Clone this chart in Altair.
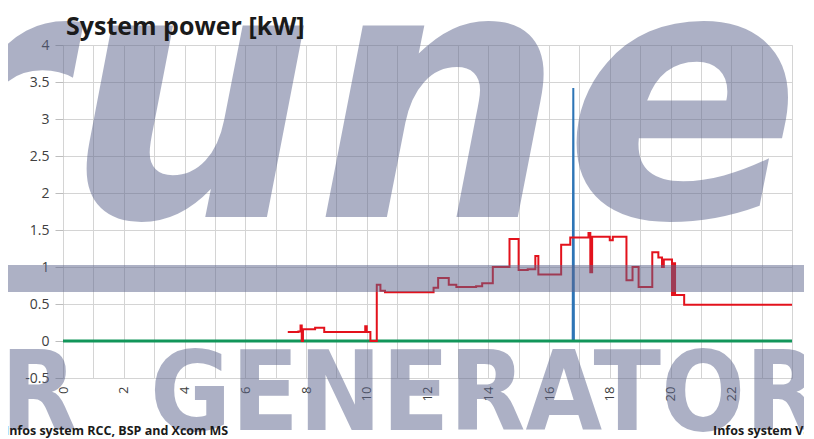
import altair as alt
import pandas as pd

# ---- data ----
red_t = [7.4, 7.75, 7.82, 7.86, 7.9, 8.3, 8.6, 9.95, 10.0, 10.12, 10.33, 10.45, 10.6,
         12.2, 12.35, 12.7, 12.95, 13.6, 13.8, 14.15, 14.7, 15.0, 15.3, 15.55, 15.65,
         16.4, 16.7, 17.3, 17.36, 17.42, 18.0, 18.1, 18.55, 18.75, 18.95, 19.4, 19.6,
         19.72, 19.78, 20.05, 20.1, 20.15, 20.45, 24.0]
red_v = [0.12, 0.13, 0.21, 0.0, 0.16, 0.18, 0.12, 0.2, 0.12, 0.0, 0.76, 0.68, 0.66,
         0.72, 0.85, 0.76, 0.73, 0.74, 0.78, 1.0, 1.38, 0.96, 0.97, 1.15, 0.9,
         1.3, 1.4, 1.46, 0.93, 1.41, 1.36, 1.41, 0.82, 1.0, 0.73, 1.2, 1.13,
         1.0, 1.1, 0.62, 1.05, 0.62, 0.49, 0.49]

blue_t = [0.0, 16.78, 16.8, 16.82, 24.0]
blue_v = [0.0, 0.0, 3.42, 0.0, 0.0]

green_t = [0.0, 24.0]
green_v = [0.0, 0.0]

x_ticks = list(range(0, 25))
y_ticks = [-0.5, 0, 0.5, 1, 1.5, 2, 2.5, 3, 3.5, 4]

title_text = "System power [kW]"
foot_left = "Infos system RCC, BSP and Xcom MS"
foot_right = "Infos system Variables"

red_df = pd.DataFrame({"t": red_t, "v": red_v})
blue_df = pd.DataFrame({"t": blue_t, "v": blue_v})
green_df = pd.DataFrame({"t": green_t, "v": green_v})

xs = alt.Scale(domain=[0, 24], nice=False, zero=False)
ys = alt.Scale(domain=[-0.5, 4], nice=False, zero=False)

x_axis = alt.Axis(values=x_ticks, title=None, grid=True, gridColor="#d4d4d4",
                  labelAngle=270, labelExpr="datum.value % 2 == 0 && datum.value < 24 ? datum.value : ''",
                  labelFont="Open Sans", labelFontSize=13, labelColor="#404040",
                  labelPadding=8, ticks=False, domain=False, labelOverlap=False, labelBound=False)
y_axis = alt.Axis(values=y_ticks, title=None, grid=True, gridColor="#d4d4d4",
                  labelExpr="'' + datum.value", labelFont="Open Sans", labelFontSize=14,
                  labelColor="#404040", tickSize=8, tickColor="#bdbdbd",
                  labelPadding=6, domain=False, labelOverlap=False, labelBound=False,
                  labelFlush=False)

X = alt.X("t:Q", scale=xs, axis=x_axis)
Y = alt.Y("v:Q", scale=ys, axis=y_axis)

blue = alt.Chart(blue_df).mark_line(color="#2e75b6", strokeWidth=2).encode(x=X, y=Y)
green = alt.Chart(green_df).mark_line(color="#12965a", strokeWidth=3).encode(x=X, y=Y)
red = alt.Chart(red_df).mark_line(color="#e3121c", strokeWidth=2, interpolate="step-after").encode(x=X, y=Y)

anno = pd.DataFrame({"k": [0]})

title = alt.Chart(anno).mark_text(text=title_text, font="Open Sans", fontSize=25, fontWeight="bold",
                                  align="left", baseline="alphabetic", color="#1a1a1a").encode(
    x=alt.value(3), y=alt.value(-10))
foot1 = alt.Chart(anno).mark_text(text=foot_left, font="Open Sans", fontSize=12.5, fontWeight="bold",
                                  align="left", baseline="alphabetic", color="#1a1a1a").encode(
    x=alt.value(-58), y=alt.value(390))
foot2 = alt.Chart(anno).mark_text(text=foot_right, font="Open Sans", fontSize=12.5, fontWeight="bold",
                                  align="left", baseline="alphabetic", color="#1a1a1a").encode(
    x=alt.value(650), y=alt.value(390))

wm_color = "#5b648c"
wm_op = 0.5
band = alt.Chart(anno).mark_rect(color=wm_color, opacity=wm_op).encode(
    x=alt.value(-63), x2=alt.value(751), y=alt.value(220), y2=alt.value(247))
wm_top = alt.Chart(anno).mark_text(text="rune", font="DejaVu Sans", fontSize=350, fontWeight="bold",
                                   fontStyle="italic", align="left", baseline="alphabetic",
                                   color=wm_color, opacity=wm_op).encode(
    x=alt.value(-170), y=alt.value(172))
wm_r = alt.Chart(anno).mark_text(text="R", font="DejaVu Sans Condensed", fontSize=110, fontWeight="bold",
                                 align="right", baseline="alphabetic",
                                 color=wm_color, opacity=wm_op).encode(
    x=alt.value(14), y=alt.value(385))
wm_gen = alt.Chart(anno).mark_text(text="GENERATOR", font="DejaVu Sans Condensed", fontSize=110,
                                   fontWeight="bold", align="left", baseline="alphabetic",
                                   color=wm_color, opacity=wm_op).encode(
    x=alt.value(87), y=alt.value(385))

chart = alt.layer(blue, green, red, band, wm_top, wm_r, wm_gen, title, foot1, foot2).properties(
    width=729, height=333,
    autosize=alt.AutoSizeParams(type="none"),
    padding={"left": 55, "top": 37, "right": 12, "bottom": 60},
).configure_view(stroke=None).configure(background="white")

chart.save("out.html", embed_options={"renderer": "svg", "actions": False})
